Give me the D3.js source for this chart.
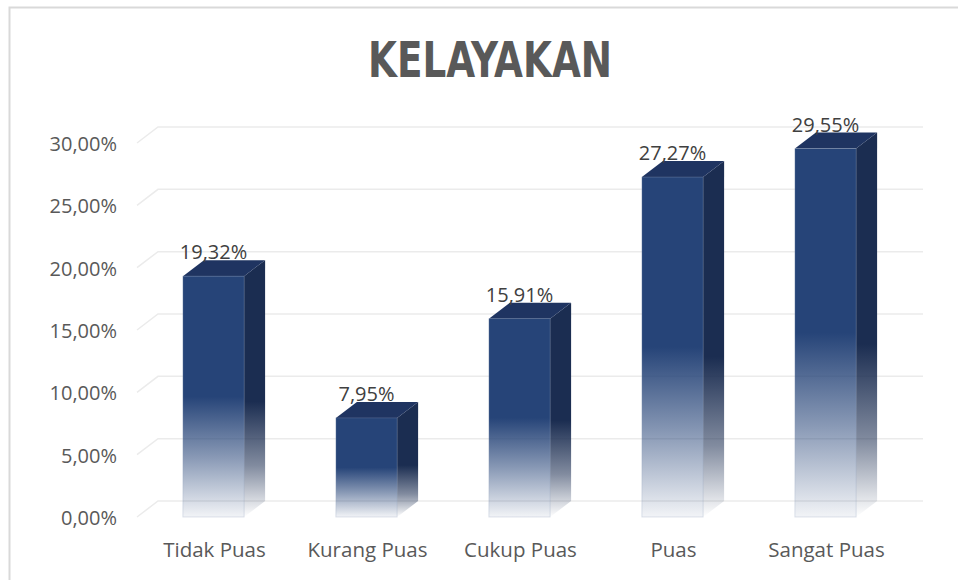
<!DOCTYPE html>
<html>
<head>
<meta charset="utf-8">
<script src="https://cdn.jsdelivr.net/npm/d3@7"></script>
<style>
  body { margin: 0; background: #fff; }
  text { font-family: "Open Sans", "Noto Sans", sans-serif; }
</style>
</head>
<body>
<svg class="chart"></svg>
<script>
var categories = ["Tidak Puas", "Kurang Puas", "Cukup Puas", "Puas", "Sangat Puas"];
var values = [19.32, 7.95, 15.91, 27.27, 29.55];
var yTicks = [0, 5, 10, 15, 20, 25, 30];

var width = 958,
    height = 580;

// depth offset of the 3d look
var dx = 21, dy = -16;

var locale = d3.formatLocale({ decimal: ",", thousands: ".", grouping: [3], currency: ["", ""] });
var fmt = function(v) { return locale.format(".2f")(v) + "%"; };

var x = d3.scaleBand()
    .domain(categories)
    .range([137, 902])
    .paddingInner(0.6)
    .paddingOuter(0.3);
var y = d3.scaleLinear()
    .domain([0, 30])
    .range([517, 143]);

var chart = d3.select(".chart")
    .attr("width", width)
    .attr("height", height);

// chart frame
chart.append("rect")
    .attr("x", 9.5).attr("y", 7.5)
    .attr("width", 960).attr("height", 600)
    .attr("fill", "#fff")
    .attr("stroke", "#d9d9d9")
    .attr("stroke-width", 2);

var defs = chart.append("defs");

var front = defs.append("linearGradient")
    .attr("id", "frontGrad")
    .attr("x1", 0).attr("y1", 0).attr("x2", 0).attr("y2", 1);
front.append("stop").attr("offset", 0).attr("stop-color", "#264478");
front.append("stop").attr("offset", 0.5).attr("stop-color", "#264478");
front.append("stop").attr("offset", 0.75).attr("stop-color", "#264478").attr("stop-opacity", 0.55);
front.append("stop").attr("offset", 1).attr("stop-color", "#264478").attr("stop-opacity", 0.06);

var side = defs.append("linearGradient")
    .attr("id", "sideGrad")
    .attr("x1", 0).attr("y1", 0).attr("x2", 0).attr("y2", 1);
side.append("stop").attr("offset", 0).attr("stop-color", "#1b2d51");
side.append("stop").attr("offset", 0.55).attr("stop-color", "#1b2d51");
side.append("stop").attr("offset", 0.8).attr("stop-color", "#1b2d51").attr("stop-opacity", 0.55);
side.append("stop").attr("offset", 1).attr("stop-color", "#1b2d51").attr("stop-opacity", 0.0);

// back wall gridlines
chart.append("g").selectAll("path")
    .data(yTicks)
  .enter().append("path")
    .attr("d", function(t) {
      var yy = y(t);
      return "M" + x.range()[0] + "," + yy + "L" + (x.range()[0] + dx) + "," + (yy + dy) +
             "L" + (x.range()[1] + dx) + "," + (yy + dy);
    })
    .attr("fill", "none")
    .attr("stroke", "#ebebeb")
    .attr("stroke-width", 1.5);

// y axis labels
chart.append("g").selectAll("text")
    .data(yTicks)
  .enter().append("text")
    .attr("x", 117)
    .attr("y", function(t) { return y(t); })
    .attr("dy", "0.4em")
    .attr("text-anchor", "end")
    .attr("font-size", 20)
    .attr("fill", "#595959")
    .text(function(t) { return fmt(t); });

var bw = x.bandwidth();

var bar = chart.selectAll("g.bar")
    .data(categories.map(function(c, i) { return { name: c, value: values[i] }; }))
  .enter().append("g")
    .attr("class", "bar");

bar.append("path")
    .attr("d", function(d) {
      var x0 = x(d.name) + bw, yt = y(d.value), yb = y(0);
      return "M" + x0 + "," + yt + "L" + (x0 + dx) + "," + (yt + dy) + "L" + (x0 + dx) + "," + (yb + dy) +
             "L" + x0 + "," + yb + "Z";
    })
    .attr("fill", "url(#sideGrad)");

bar.append("path")
    .attr("d", function(d) {
      var x0 = x(d.name), yt = y(d.value);
      return "M" + x0 + "," + yt + "L" + (x0 + dx) + "," + (yt + dy) + "L" + (x0 + bw + dx) + "," + (yt + dy) +
             "L" + (x0 + bw) + "," + yt + "Z";
    })
    .attr("fill", "#1f3461");

bar.append("rect")
    .attr("x", function(d) { return x(d.name); })
    .attr("y", function(d) { return y(d.value); })
    .attr("width", bw)
    .attr("height", function(d) { return y(0) - y(d.value); })
    .attr("fill", "url(#frontGrad)")
    .attr("stroke", "#8c9bb8")
    .attr("stroke-opacity", 0.35)
    .attr("stroke-width", 0.8);

bar.append("text")
    .attr("x", function(d) { return x(d.name) + bw / 2; })
    .attr("y", function(d) { return y(d.value) - 17; })
    .attr("text-anchor", "middle")
    .attr("font-size", 20)
    .attr("fill", "#404040")
    .text(function(d) { return fmt(d.value); });

// category labels
chart.append("g").selectAll("text")
    .data(categories)
  .enter().append("text")
    .attr("x", function(c) { return x(c) + bw / 2 + 1; })
    .attr("y", 557)
    .attr("text-anchor", "middle")
    .attr("font-size", 20.5)
    .attr("fill", "#595959")
    .text(function(c) { return c; });

// title
chart.append("text")
    .attr("x", 490)
    .attr("y", 77)
    .attr("text-anchor", "middle")
    .attr("font-size", 49)
    .attr("font-weight", "bold")
    .attr("fill", "#595959")
    .attr("textLength", 244)
    .attr("lengthAdjust", "spacingAndGlyphs")
    .style("font-family", "'Liberation Sans Narrow', 'DejaVu Sans Condensed', 'Liberation Sans', sans-serif")
    .text("KELAYAKAN");
</script>
</body>
</html>
